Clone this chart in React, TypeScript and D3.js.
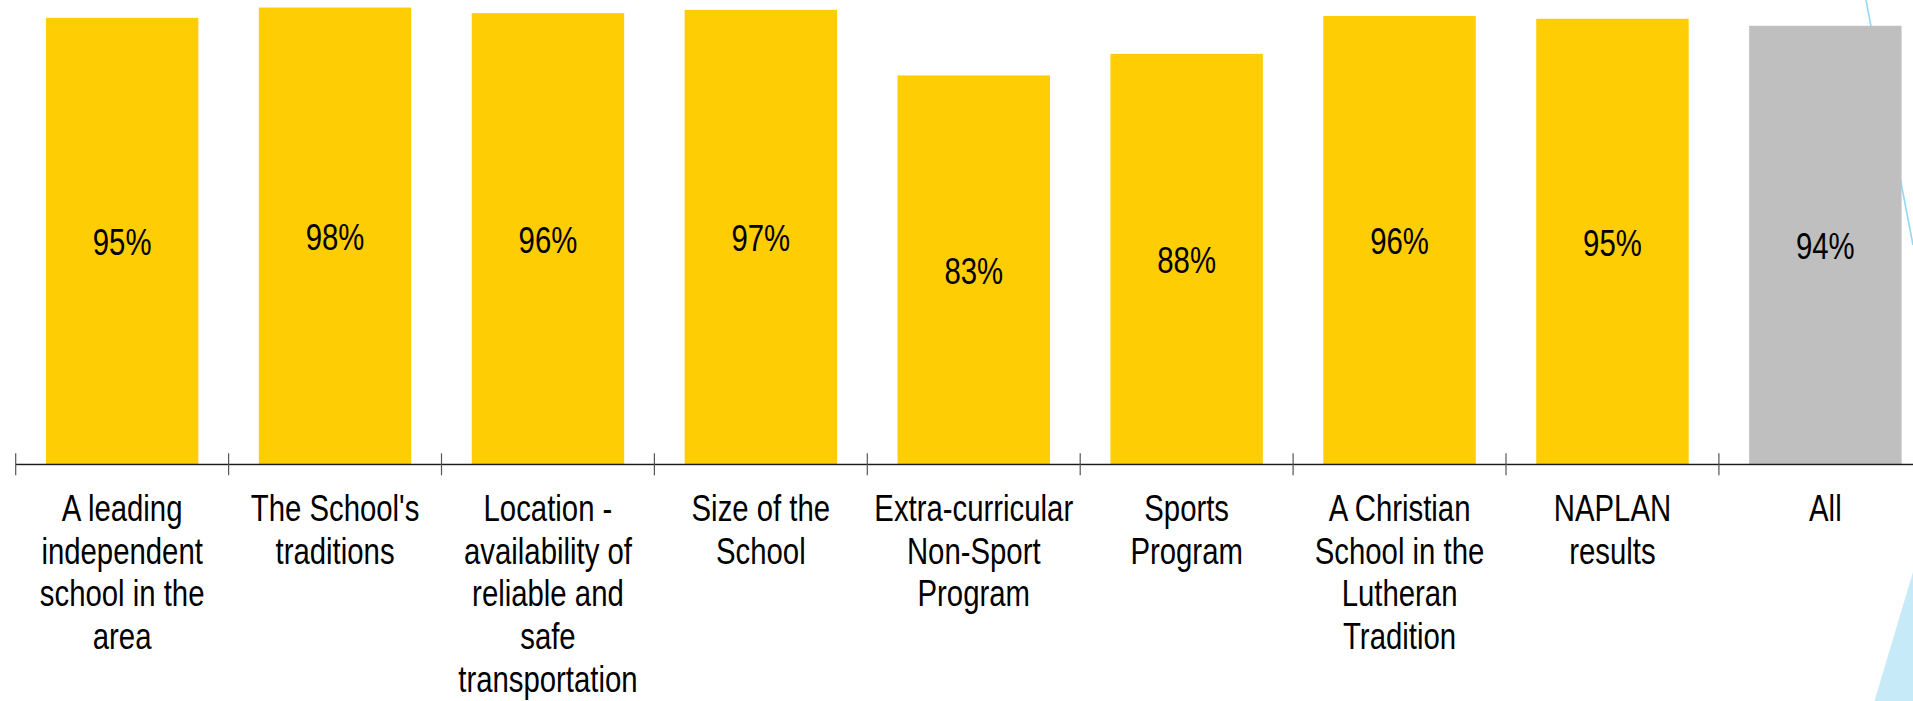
import React from "react";
import * as d3 from "d3";

const categories: string[][] = [
  ["A leading", "independent", "school in the", "area"],
  ["The School's", "traditions"],
  ["Location -", "availability of", "reliable and", "safe", "transportation"],
  ["Size of the", "School"],
  ["Extra-curricular", "Non-Sport", "Program"],
  ["Sports", "Program"],
  ["A Christian", "School in the", "Lutheran", "Tradition"],
  ["NAPLAN", "results"],
  ["All"],
];
const values: number[] = [95.4, 97.6, 96.4, 97.1, 83.1, 87.7, 95.8, 95.2, 93.7];
const valueLabels: string[] = ["95%", "98%", "96%", "97%", "83%", "88%", "96%", "95%", "94%"];
const barColors: string[] = ["#FECD04", "#FECD04", "#FECD04", "#FECD04", "#FECD04", "#FECD04", "#FECD04", "#FECD04", "#BFBFBF"];

const W = 1913;
const H = 701;
const FONT = "'Liberation Sans', Arial, Helvetica, sans-serif";
const SX = 0.815;
const FS = 36;

export default function App() {
  const keys = categories.map((_, i) => String(i));
  const x = d3
    .scaleBand<string>()
    .domain(keys)
    .range([15.7, 1931.8])
    .paddingInner(0.284)
    .paddingOuter(0.142);
  const y = d3.scaleLinear().domain([0, 100]).range([464.3, -3.7]);
  const step = x.step();
  const bw = x.bandwidth();
  const tickXs = d3.range(keys.length + 1).map((i) => 15.7 + i * step);
  const base = y(0);

  return (
    <svg
      width={W}
      height={H}
      style={{ position: "absolute", left: 0, top: 0, display: "block", background: "#fff" }}
      fontFamily={FONT}
    >
      {/* decorative background */}
      <line x1={1866} y1={0} x2={1913} y2={245} stroke="#93D8F4" strokeWidth={1.6} />
      <polygon points="1913,572 1913,701 1874.5,701" fill="#C6EAF8" />

      {/* bars */}
      {values.map((v, i) => (
        <rect
          key={"b" + i}
          x={x(keys[i])!}
          y={y(v)}
          width={bw}
          height={base - y(v)}
          fill={barColors[i]}
        />
      ))}

      {/* value labels */}
      {values.map((v, i) => {
        const cx = x(keys[i])! + bw / 2;
        const mid = (y(v) + base) / 2;
        return (
          <text
            key={"v" + i}
            transform={`translate(${cx},${mid + 14}) scale(${SX},1)`}
            textAnchor="middle"
            fontSize={FS}
            fill="#000"
          >
            {valueLabels[i]}
          </text>
        );
      })}

      {/* axis */}
      <line x1={15.7} y1={base + 1.3} x2={W} y2={base + 1.3} stroke="#D0D0D0" strokeWidth={1} />
      <line x1={15.7} y1={base} x2={W} y2={base} stroke="#1a1a1a" strokeWidth={1.3} />
      {tickXs.map((tx, i) => (
        <line key={"t" + i} x1={tx} y1={base - 11} x2={tx} y2={base + 11} stroke="#555" strokeWidth={1.2} />
      ))}

      {/* category labels */}
      {categories.map((lines, i) => {
        const cx = x(keys[i])! + bw / 2;
        return lines.map((ln, j) => (
          <text
            key={"c" + i + "-" + j}
            transform={`translate(${cx},${521 + j * 42.67}) scale(${SX},1)`}
            textAnchor="middle"
            fontSize={FS}
            fill="#000"
          >
            {ln}
          </text>
        ));
      })}
    </svg>
  );
}
